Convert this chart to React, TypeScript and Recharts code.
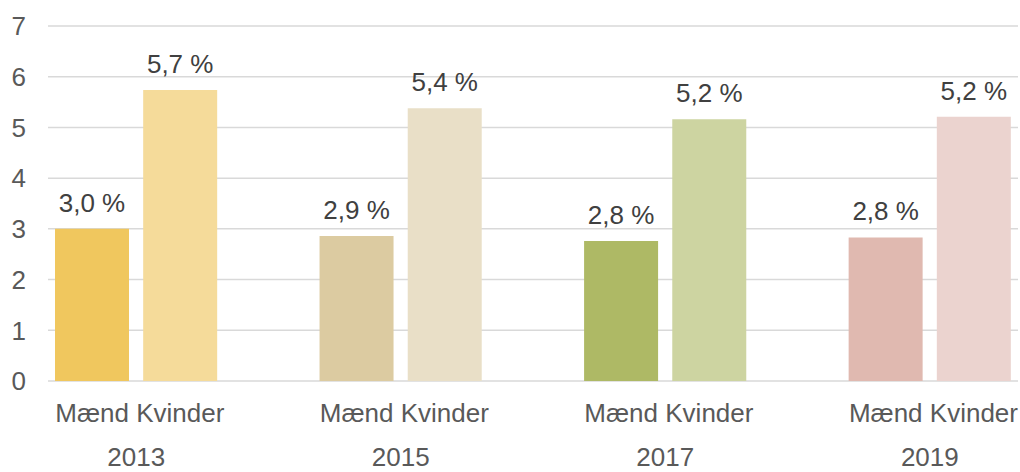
import React from "react";
import {
  BarChart,
  Bar,
  Cell,
  XAxis,
  YAxis,
  CartesianGrid,
  LabelList,
} from "recharts";

const years = ["2013", "2015", "2017", "2019"];
const genderLabels = ["Mænd", "Kvinder"];
const maend = [3.0, 2.86, 2.76, 2.83];
const kvinder = [5.74, 5.38, 5.16, 5.21];
const maendColors = ["#F0C75E", "#DCCBA1", "#AEB965", "#E0B9B0"];
const kvinderColors = ["#F5DB9A", "#E9DFC7", "#CDD4A1", "#EBD3CF"];
const yTicks = [0, 1, 2, 3, 4, 5, 6, 7];

// one empty slot between each year group, like the Excel layout
const rows: any[] = [];
years.forEach((year, i) => {
  if (i > 0) rows.push({ key: `gap-${i}`, label: "", year: "", value: null, color: "none" });
  rows.push({ key: `m-${i}`, label: genderLabels[0], year, value: maend[i], color: maendColors[i] });
  rows.push({ key: `k-${i}`, label: genderLabels[1], year: "", value: kvinder[i], color: kvinderColors[i] });
});

const FONT = "'Liberation Sans', Arial, sans-serif";

const CategoryTick = (props: any) => {
  const { x, y, payload, width } = props;
  const row = rows[payload.index];
  const band = width / rows.length;
  return (
    <g>
      <text x={x} y={y} dy={33} textAnchor="middle" fill="#595959" fontSize={26} fontFamily={FONT}>
        {row?.label}
      </text>
      {row?.year ? (
        <text x={x + band / 2} y={y} dy={77} textAnchor="middle" fill="#595959" fontSize={26} fontFamily={FONT}>
          {row.year}
        </text>
      ) : null}
    </g>
  );
};

export default function App() {
  return (
    <div style={{ position: "absolute", left: 0, top: 0, width: 1020, height: 472, background: "#fff" }}>
      <BarChart
        width={1020}
        height={472}
        data={rows}
        margin={{ top: 26, right: 2, left: 0, bottom: 0 }}
      >
        <CartesianGrid vertical={false} stroke="#d9d9d9" strokeWidth={1.5} />
        <XAxis
          dataKey="key"
          axisLine={false}
          tickLine={false}
          interval={0}
          height={91}
          tick={<CategoryTick />}
        />
        <YAxis
          width={48}
          domain={[0, 7]}
          ticks={yTicks}
          axisLine={false}
          tickLine={false}
          tickMargin={16}
          tick={{ fill: "#595959", fontSize: 26, fontFamily: FONT }}
        />
        <Bar dataKey="value" barSize={74} isAnimationActive={false}>
          {rows.map((r) => (
            <Cell key={r.key} fill={r.color} />
          ))}
          <LabelList
            dataKey="value"
            position="top"
            offset={17}
            fill="#404040"
            fontSize={26}
            fontFamily={FONT}
            formatter={(v: any) =>
              v == null ? "" : `${Number(v).toFixed(1).replace(".", ",")} %`
            }
          />
        </Bar>
      </BarChart>
    </div>
  );
}
